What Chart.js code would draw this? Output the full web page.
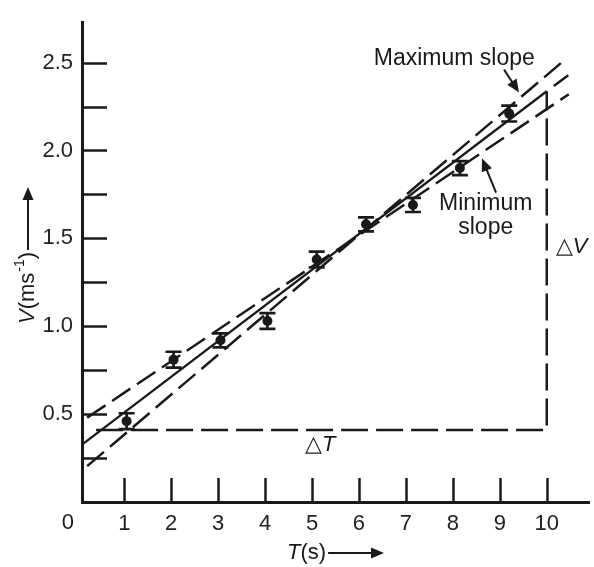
<!DOCTYPE html>
<html>
<head>
<meta charset="utf-8">
<script src="https://cdn.jsdelivr.net/npm/chart.js@4.4.0/dist/chart.umd.min.js"></script>
<style>
  body { margin: 0; background: #fff; }
  #wrap { position: relative; width: 594px; height: 567px; }
</style>
</head>
<body>
<div id="wrap"><canvas id="chart"></canvas></div>
<script>
// measured points (T in s, V in m/s) with their error bars
const timeT = [1.05, 2.05, 3.05, 4.05, 5.1, 6.15, 7.15, 8.15, 9.2]
const velocityV = [0.46, 0.81, 0.92, 1.03, 1.38, 1.58, 1.69, 1.90, 2.21]
const errorV = [0.045, 0.045, 0.04, 0.045, 0.045, 0.04, 0.04, 0.04, 0.045]

// lines (end points)
const bestFitT = [0.1, 10]
const bestFitV = [0.326, 2.337]
const bestFitExtT = [10.15, 10.47]
const bestFitExtV = [2.367, 2.43]
const maxSlopeT = [0.21, 10.3]
const maxSlopeV = [0.204, 2.497]
const minSlopeT = [0.21, 10.47]
const minSlopeV = [0.48, 2.32]
// the ΔT / ΔV triangle
const triangleT = [0.4, 10, 10]
const triangleV = [0.41, 0.41, 2.337]

const xTicks = [1, 2, 3, 4, 5, 6, 7, 8, 9, 10]
const yLabels = [0.5, 1.0, 1.5, 2.0, 2.5]
const yTickMarks = [0.25, 0.5, 0.75, 1.0, 1.25, 1.5, 1.75, 2.0, 2.25, 2.5]

const FONT = "'Liberation Sans', Arial, sans-serif"
const INK = "#1a1a1a"

const pts = (xs, ys) => xs.map((x, i) => ({x: x, y: ys[i]}))

function arrow(ctx, x1, y1, x2, y2){
    const a = Math.atan2(y2 - y1, x2 - x1)
    const hl = 13, hw = 5.5
    ctx.beginPath()
    ctx.moveTo(x1, y1)
    ctx.lineTo(x2 - Math.cos(a) * hl * 0.8, y2 - Math.sin(a) * hl * 0.8)
    ctx.stroke()
    ctx.beginPath()
    ctx.moveTo(x2, y2)
    ctx.lineTo(x2 - Math.cos(a) * hl - Math.sin(a) * hw, y2 - Math.sin(a) * hl + Math.cos(a) * hw)
    ctx.lineTo(x2 - Math.cos(a) * hl + Math.sin(a) * hw, y2 - Math.sin(a) * hl - Math.cos(a) * hw)
    ctx.closePath()
    ctx.fill()
}

const extras = {
    id: "extras",
    afterDatasetsDraw(chart){
        const ctx = chart.ctx
        const xs = chart.scales.x, ys = chart.scales.y
        const px = v => xs.getPixelForValue(v)
        const py = v => ys.getPixelForValue(v)
        ctx.save()
        ctx.strokeStyle = INK
        ctx.fillStyle = INK
        ctx.lineCap = "butt"

        // tick marks drawn inwards
        ctx.lineWidth = 2.5
        yTickMarks.forEach(v => {
            const y = Math.round(py(v)) + 0.5
            ctx.beginPath(); ctx.moveTo(xs.left, y); ctx.lineTo(xs.left + 25, y); ctx.stroke()
        })
        xTicks.forEach(v => {
            const x = Math.round(px(v)) + 0.5
            ctx.beginPath(); ctx.moveTo(x, ys.bottom); ctx.lineTo(x, ys.bottom - 24); ctx.stroke()
        })

        // error bars
        ctx.lineWidth = 2.7
        timeT.forEach((t, i) => {
            const x = px(t)
            const top = py(velocityV[i] + errorV[i]), bot = py(velocityV[i] - errorV[i])
            ctx.beginPath()
            ctx.moveTo(x, top); ctx.lineTo(x, bot)
            ctx.moveTo(x - 8, top); ctx.lineTo(x + 8, top)
            ctx.moveTo(x - 8, bot); ctx.lineTo(x + 8, bot)
            ctx.stroke()
        })

        // text
        ctx.textBaseline = "middle"
        ctx.textAlign = "center"
        ctx.font = "23px " + FONT
        ctx.fillText("Maximum slope", px(8.03), py(2.525))
        ctx.fillText("Minimum", px(8.7), py(1.70))
        ctx.fillText("slope", px(8.7), py(1.56))
        ctx.lineWidth = 2
        arrow(ctx, px(9.09), py(2.46), px(9.41), py(2.33))
        arrow(ctx, px(8.92), py(1.76), px(8.62), py(1.956))

        // ΔT and ΔV
        ctx.textAlign = "left"
        ctx.font = "22px " + FONT
        let w = ctx.measureText("\u25B3").width
        ctx.fillText("\u25B3", px(4.85), py(0.326))
        ctx.font = "italic 22px " + FONT
        ctx.fillText("T", px(4.85) + w, py(0.326))
        ctx.font = "22px " + FONT
        ctx.fillText("\u25B3", px(10.19), py(1.45))
        ctx.font = "italic 22px " + FONT
        ctx.fillText("V", px(10.19) + w, py(1.45))

        // origin label
        ctx.textAlign = "center"
        ctx.font = "22px " + FONT
        ctx.fillText("0", px(-0.2), ys.bottom + 21)

        // x title
        ctx.textAlign = "left"
        let x0 = 287, yT = 553
        ctx.font = "italic 22px " + FONT
        ctx.fillText("T", x0, yT)
        x0 += ctx.measureText("T").width
        ctx.font = "22px " + FONT
        ctx.fillText("(s)", x0, yT)
        x0 += ctx.measureText("(s)").width
        ctx.lineWidth = 2
        arrow(ctx, x0 + 2, yT, 384, yT)

        // y title, rotated
        ctx.translate(28, 324)
        ctx.rotate(-Math.PI / 2)
        let x1 = 0
        ctx.font = "italic 22px " + FONT
        ctx.fillText("V", x1, 0)
        x1 += ctx.measureText("V").width
        ctx.font = "22px " + FONT
        ctx.fillText("(ms", x1, 0)
        x1 += ctx.measureText("(ms").width
        ctx.font = "14px " + FONT
        ctx.fillText("-1", x1 + 1, -8)
        x1 += ctx.measureText("-1").width + 1
        ctx.font = "22px " + FONT
        ctx.fillText(")", x1, 0)
        x1 += ctx.measureText(")").width
        arrow(ctx, x1 + 2, 0, 137, 0)
        ctx.restore()
    }
}

const lineStyle = (data, dash, width) => ({
    type: "scatter",
    data: data,
    showLine: true,
    borderColor: INK,
    borderWidth: width,
    borderDash: dash,
    pointRadius: 0,
    fill: false,
})

new Chart(document.getElementById("chart").getContext("2d"), {
    type: "scatter",
    data: {
        datasets: [
            lineStyle(pts(bestFitT, bestFitV), [], 2.3),
            lineStyle(pts(bestFitExtT, bestFitExtV), [18, 8], 2.5),
            lineStyle(pts(maxSlopeT, maxSlopeV), [22, 8], 2.5),
            lineStyle(pts(minSlopeT, minSlopeV), [22, 8], 2.5),
            lineStyle(pts(triangleT, triangleV), [27, 8], 2.5),
            {
                data: pts(timeT, velocityV),
                pointRadius: 5,
                pointBackgroundColor: INK,
                pointBorderColor: INK,
                borderWidth: 0,
            }
        ]
    },
    options: {
        responsive: true,
        maintainAspectRatio: false,
        animation: false,
        layout: {padding: {top: 8, right: 2, left: 0, bottom: 0}},
        plugins: {legend: {display: false}, tooltip: {enabled: false}},
        scales: {
            x: {
                type: "linear",
                min: 0.1,
                max: 10.9,
                afterFit: s => { s.height = 65 },
                afterBuildTicks: s => { s.ticks = xTicks.map(v => ({value: v})) },
                grid: {display: false, drawTicks: false},
                border: {display: true, color: INK, width: 3},
                ticks: {color: "#222", padding: 9, font: {family: FONT, size: 22}, maxRotation: 0,
                    callback: v => String(v)},
            },
            y: {
                type: "linear",
                min: 0,
                max: 2.73,
                afterFit: s => { s.width = 82 },
                afterBuildTicks: s => { s.ticks = yLabels.map(v => ({value: v})) },
                grid: {display: false, drawTicks: false},
                border: {display: true, color: INK, width: 3},
                ticks: {color: "#222", padding: 9, font: {family: FONT, size: 22},
                    callback: v => v.toFixed(1)},
            }
        }
    },
    plugins: [extras]
})
</script>
</body>
</html>
